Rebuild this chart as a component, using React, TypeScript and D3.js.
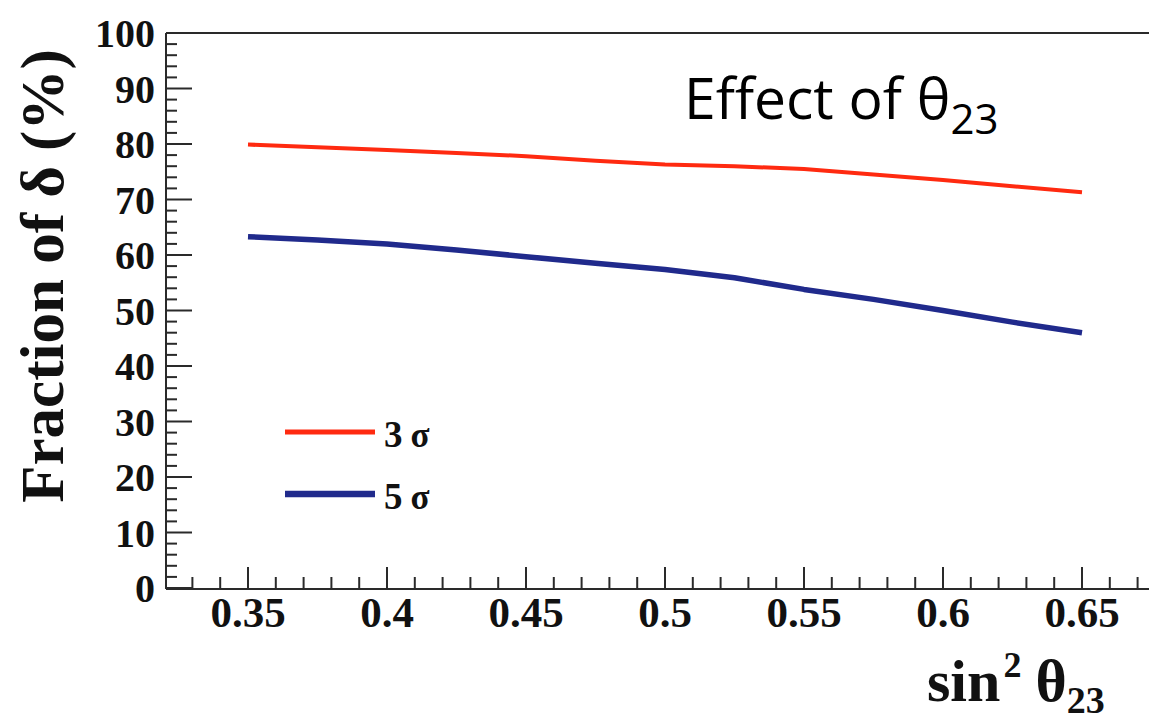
import React from "react";
import * as d3 from "d3";

const xValues = [0.35, 0.375, 0.4, 0.425, 0.45, 0.475, 0.5, 0.525, 0.55, 0.575, 0.6, 0.625, 0.65];
const sigma3 = [79.9, 79.4, 78.9, 78.4, 77.8, 77.0, 76.3, 76.0, 75.5, 74.5, 73.5, 72.4, 71.3];
const sigma5 = [63.3, 62.7, 62.0, 60.9, 59.7, 58.5, 57.4, 55.9, 53.8, 52.0, 50.0, 47.9, 46.0];
const xTickLabels = ["0.35", "0.4", "0.45", "0.5", "0.55", "0.6", "0.65"];
const yTickLabels = ["0", "10", "20", "30", "40", "50", "60", "70", "80", "90", "100"];
const seriesNames = ["3 σ", "5 σ"];

const W = 1149;
const H = 720;
const axisLeft = 166;
const axisRight = 1149;
const axisTop = 33;
const axisBottom = 589;

export default function App() {
  const x = d3.scaleLinear().domain([0.35, 0.65]).range([248, 1082]);
  const y = d3.scaleLinear().domain([0, 100]).range([588, 33]);
  const line = d3
    .line<number>()
    .x((_, i) => x(xValues[i]))
    .y((d) => y(d))
    .curve(d3.curveLinear);

  const xMinor = d3.range(33, 68).map((v) => v / 100);
  const yMinor = d3.range(0, 101, 2);
  const axisColor = "#2a2a2a";
  const serif = "'Liberation Serif', 'DejaVu Serif', serif";

  return (
    <svg
      width={W}
      height={H}
      style={{ position: "absolute", left: 0, top: 0, background: "#fff" }}
      xmlns="http://www.w3.org/2000/svg"
    >
      <rect x={0} y={0} width={W} height={H} fill="#fff" />
      {/* frame */}
      <line x1={axisLeft} x2={axisRight} y1={axisTop} y2={axisTop} stroke={axisColor} strokeWidth={2} />
      <line x1={axisLeft} x2={axisRight} y1={axisBottom} y2={axisBottom} stroke={axisColor} strokeWidth={2} />
      <line x1={axisLeft} x2={axisLeft} y1={axisTop} y2={axisBottom} stroke={axisColor} strokeWidth={2} />

      {/* y ticks */}
      {yMinor.map((v) => {
        const major = v % 10 === 0;
        return (
          <line
            key={"yt" + v}
            x1={axisLeft}
            x2={axisLeft + (major ? 26 : 11)}
            y1={y(v)}
            y2={y(v)}
            stroke={axisColor}
            strokeWidth={2}
          />
        );
      })}
      {yTickLabels.map((t) => (
        <text
          key={"yl" + t}
          x={155}
          y={y(+t)}
          dy="0.35em"
          textAnchor="end"
          fontFamily={serif}
          fontWeight="bold"
          fontSize={40}
          fill="#111"
        >
          {t}
        </text>
      ))}

      {/* x ticks */}
      {xMinor.map((v) => {
        const major = Math.round(v * 100) % 5 === 0;
        return (
          <line
            key={"xt" + v}
            x1={x(v)}
            x2={x(v)}
            y1={axisBottom}
            y2={axisBottom - (major ? 22 : 12)}
            stroke={axisColor}
            strokeWidth={2}
          />
        );
      })}
      {xTickLabels.map((t) => (
        <text
          key={"xl" + t}
          x={x(+t)}
          y={627}
          textAnchor="middle"
          fontFamily={serif}
          fontWeight="bold"
          fontSize={43}
          fill="#111"
        >
          {t}
        </text>
      ))}

      {/* data lines */}
      <path d={line(sigma3) || ""} fill="none" stroke="#ff2a10" strokeWidth={4} strokeLinejoin="round" />
      <path d={line(sigma5) || ""} fill="none" stroke="#202a8c" strokeWidth={5.5} strokeLinejoin="round" />

      {/* legend */}
      <line x1={285} x2={375} y1={432} y2={432} stroke="#ff2a10" strokeWidth={5} />
      <line x1={285} x2={375} y1={494} y2={494} stroke="#202a8c" strokeWidth={6.5} />
      {seriesNames.map((s, i) => {
        const [num, sym] = s.split(" ");
        return (
          <text
            key={s}
            x={384}
            y={447 + i * 62}
            fontFamily={serif}
            fontSize={37}
            fill="#111"
          >
            <tspan fontWeight="bold">{num}</tspan>
            <tspan dx={8} fontSize={35} fontWeight="bold">{sym}</tspan>
          </text>
        );
      })}

      {/* title */}
      <text x={684} y={119} fontFamily="'Open Sans', 'Noto Sans', sans-serif" fontSize={57} fontWeight={500} fill="#000">
        Effect of θ
        <tspan fontSize={42} dy={15}>23</tspan>
      </text>

      {/* y axis title */}
      <text
        transform="translate(63,276) rotate(-90)"
        textAnchor="middle"
        fontFamily={serif}
        fontWeight="bold"
        fontSize={61}
        fill="#111"
      >
        Fraction of δ (%)
      </text>

      {/* x axis title */}
      <text x={927} y={701} fontFamily={serif} fontWeight="bold" fontSize={60} fill="#111">
        sin
        <tspan fontSize={36} dy={-24} dx={3}>2</tspan>
        <tspan dy={24} dx={14}>θ</tspan>
        <tspan fontSize={38} dy={12}>23</tspan>
      </text>
    </svg>
  );
}
